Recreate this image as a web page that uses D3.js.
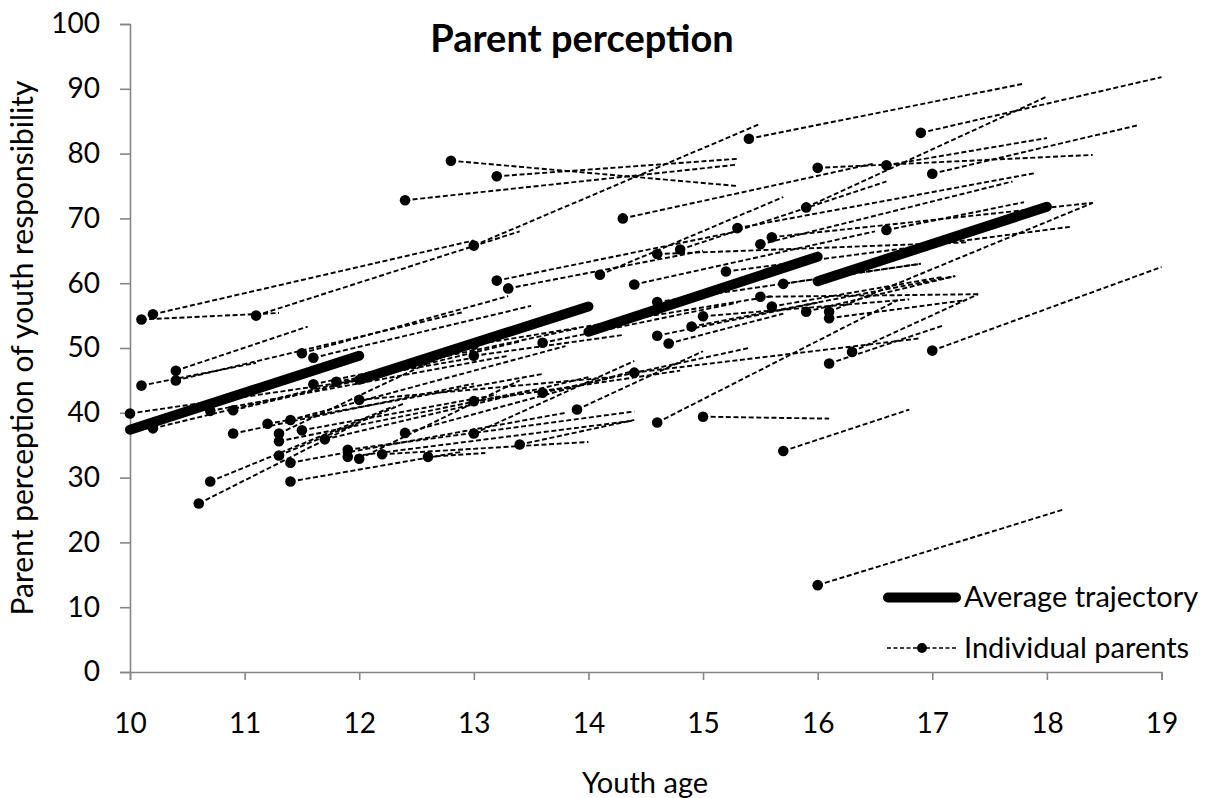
<!DOCTYPE html>
<html>
<head>
<meta charset="utf-8">
<script src="https://cdn.jsdelivr.net/npm/d3@7"></script>
<style>
  body { margin: 0; background: #fff; }
  svg { font-family: Lato, "Open Sans", sans-serif; }
</style>
</head>
<body>
<svg id="chart"></svg>
<script>
// average trajectory, one segment per 2-year cohort: [startAge, startScore, endAge, endScore]
const averageSegments = [
  [10, 37.4, 12, 48.8],
  [12, 45.1, 14, 56.4],
  [14, 52.5, 16, 64.1],
  [16, 60.3, 18, 71.8]
]

// individual parents: [firstAge, firstScore, lastAge, lastScore]
const parentLines = [
  [12.4, 72.8, 15.3, 78.3], [12.8, 78.9, 15.3, 75.0], [13.2, 76.5, 15.3, 79.2],
  [13.0, 65.8, 15.5, 84.6], [15.4, 82.3, 17.8, 90.8], [16.9, 83.2, 19.0, 91.8],
  [17.0, 76.9, 18.8, 84.4], [16.0, 77.8, 18.4, 79.8], [16.6, 78.2, 18.0, 82.4],
  [15.9, 71.7, 18.0, 88.8], [14.3, 70.0, 16.5, 78.5], [15.3, 68.5, 17.9, 77.0],
  [16.6, 68.2, 17.8, 72.5], [15.5, 66.0, 17.7, 75.7], [15.6, 67.1, 18.4, 72.4],
  [14.1, 61.3, 15.7, 73.3], [14.8, 65.2, 16.6, 75.7], [14.6, 64.5, 17.3, 66.3],
  [15.2, 61.8, 18.2, 68.7], [15.7, 59.9, 16.9, 63.0],
  [10.0, 39.9, 12.1, 45.3], [10.1, 54.4, 11.3, 55.4], [10.2, 55.2, 13.0, 66.6],
  [11.1, 55.0, 13.4, 68.0], [10.1, 44.2, 11.1, 47.7], [10.4, 46.5, 11.55, 53.3],
  [10.4, 45.0, 12.9, 55.5], [10.2, 37.6, 12.4, 47.0], [10.7, 40.3, 13.3, 48.8],
  [10.9, 40.4, 13.4, 51.0], [10.9, 36.8, 13.0, 44.5], [11.2, 38.3, 13.6, 46.0],
  [11.4, 38.9, 13.8, 50.3], [11.3, 36.8, 13.0, 51.0], [11.3, 35.6, 13.5, 43.5],
  [11.5, 37.3, 13.2, 42.8], [11.7, 35.9, 14.0, 45.5], [11.3, 33.4, 12.4, 41.5],
  [11.4, 32.3, 13.8, 40.0], [10.7, 29.4, 12.3, 41.0], [10.6, 26.0, 12.0, 38.5],
  [11.4, 29.4, 12.9, 34.0], [11.5, 49.2, 13.3, 58.0], [11.6, 48.5, 13.5, 56.5],
  [11.6, 44.4, 13.9, 53.0], [11.8, 44.8, 13.0, 48.5], [12.0, 42.0, 14.2, 45.5],
  [11.9, 34.3, 14.4, 40.2], [11.9, 33.2, 14.4, 38.8], [12.0, 32.9, 13.4, 45.0],
  [12.2, 33.6, 14.0, 35.5], [12.4, 36.9, 14.4, 46.5], [12.6, 33.2, 13.1, 33.8],
  [13.0, 36.8, 14.4, 48.0], [13.0, 41.8, 14.8, 46.5], [13.4, 35.1, 14.4, 38.9],
  [13.6, 50.8, 15.3, 57.0], [13.6, 43.1, 15.4, 50.0], [13.9, 40.5, 15.0, 49.5],
  [13.0, 48.8, 14.3, 52.0], [13.0, 50.5, 15.6, 58.0], [13.2, 60.4, 15.3, 68.0],
  [13.3, 59.2, 15.0, 65.0], [14.4, 59.8, 16.5, 68.0], [14.6, 57.1, 16.9, 63.0],
  [14.6, 51.9, 16.0, 57.0], [14.7, 50.7, 15.7, 55.3], [14.9, 53.3, 17.2, 61.1],
  [15.0, 54.9, 16.8, 57.5], [15.5, 57.9, 17.4, 58.3], [15.6, 56.4, 17.1, 61.0],
  [15.9, 55.6, 17.2, 61.1], [16.1, 55.6, 18.4, 72.4], [16.1, 54.6, 17.3, 57.4],
  [16.1, 47.6, 17.1, 53.5], [16.3, 49.4, 17.4, 58.3], [17.0, 49.6, 19.0, 62.5],
  [16.0, 13.4, 18.15, 25.1], [15.7, 34.1, 16.8, 40.5], [15.0, 39.4, 16.1, 39.1],
  [14.6, 38.5, 16.7, 57.4], [14.4, 46.2, 16.9, 51.5]
]

const xTicks = [10, 11, 12, 13, 14, 15, 16, 17, 18, 19]
const yTicks = [0, 10, 20, 30, 40, 50, 60, 70, 80, 90, 100]

const width = 1207
const height = 798
const axisColor = "#868686"

const svg = d3.select("#chart").attr("width", width).attr("height", height)

const scaleX = d3.scaleLinear().domain([10, 19]).range([130, 1161.5])
const scaleY = d3.scaleLinear().domain([0, 100]).range([672, 24])

// axes
const xAxis = d3.axisBottom(scaleX).tickValues(xTicks).tickSize(8).tickFormat(d3.format("d"))
const yAxis = d3.axisLeft(scaleY).tickValues(yTicks).tickSize(10).tickPadding(20).tickFormat(d3.format("d"))

const gx = svg.append("g").attr("transform", `translate(0, ${scaleY(0)})`).call(xAxis)
const gy = svg.append("g").attr("transform", `translate(${scaleX(10)}, 0)`).call(yAxis)

for (const g of [gx, gy]) {
  g.select(".domain").attr("stroke", axisColor).attr("stroke-width", 1.6)
  g.selectAll(".tick line").attr("stroke", axisColor).attr("stroke-width", 1.6)
  g.selectAll(".tick text").attr("fill", "#000").attr("font-size", 28).attr("font-family", "Lato, sans-serif")
}
gx.selectAll(".tick text").attr("y", 61).attr("dy", 0)

// average trajectory
svg.append("g").selectAll("line")
  .data(averageSegments)
  .join("line")
  .attr("x1", d => scaleX(d[0]))
  .attr("y1", d => scaleY(d[1]))
  .attr("x2", d => scaleX(d[2]))
  .attr("y2", d => scaleY(d[3]))
  .attr("stroke", "#000")
  .attr("stroke-width", 10)
  .attr("stroke-linecap", "round")

// individual parents
const parents = svg.append("g")
parents.selectAll("line")
  .data(parentLines)
  .join("line")
  .attr("x1", d => scaleX(d[0]))
  .attr("y1", d => scaleY(d[1]))
  .attr("x2", d => scaleX(d[2]))
  .attr("y2", d => scaleY(d[3]))
  .attr("stroke", "#000")
  .attr("stroke-width", 1.9)
  .attr("stroke-dasharray", "5,2.6")
parents.selectAll("circle")
  .data(parentLines)
  .join("circle")
  .attr("cx", d => scaleX(d[0]))
  .attr("cy", d => scaleY(d[1]))
  .attr("r", 5.3)
  .attr("fill", "#000")

// title and axis labels
svg.append("text").text("Parent perception")
  .attr("x", 582).attr("y", 52)
  .attr("text-anchor", "middle")
  .attr("font-size", 38).attr("font-weight", "bold")

svg.append("text").text("Youth age")
  .attr("x", 645).attr("y", 793)
  .attr("text-anchor", "middle")
  .attr("font-size", 29)

svg.append("text").text("Parent perception of youth responsibility")
  .attr("transform", "translate(33, 348) rotate(-90)")
  .attr("text-anchor", "middle")
  .attr("font-size", 30)

// legend
const legend = svg.append("g")
legend.append("line")
  .attr("x1", 888).attr("x2", 956).attr("y1", 597.5).attr("y2", 597.5)
  .attr("stroke", "#000").attr("stroke-width", 10).attr("stroke-linecap", "round")
legend.append("text").text("Average trajectory")
  .attr("x", 964).attr("y", 607).attr("font-size", 29)

legend.append("line")
  .attr("x1", 887).attr("x2", 958).attr("y1", 648).attr("y2", 648)
  .attr("stroke", "#000").attr("stroke-width", 1.4).attr("stroke-dasharray", "4,2.5")
legend.append("circle").attr("cx", 922).attr("cy", 648).attr("r", 5).attr("fill", "#000")
legend.append("text").text("Individual parents")
  .attr("x", 964).attr("y", 658).attr("font-size", 29)
</script>
</body>
</html>
